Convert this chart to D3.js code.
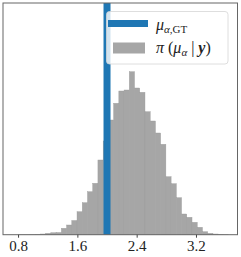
<!DOCTYPE html>
<html>
<head>
<meta charset="utf-8">
<script src="https://cdn.jsdelivr.net/npm/d3@7"></script>
<style>
  html, body { margin: 0; padding: 0; background: #fff; }
  svg { display: block; }
</style>
</head>
<body>
<svg id="chart" width="241" height="257"></svg>
<script>
// ---- data ----
const binStart = 0.82;
const binWidth = 0.0705;
const counts = [1, 1, 3, 5, 7, 14, 20, 22, 64, 97, 142, 230, 320, 430, 514, 747,
                937, 1147, 1314, 1437, 1447, 1630, 1467, 1424, 1230, 1137, 1017, 904,
                580, 510, 370, 207, 174, 124, 74, 30, 14, 7, 4, 1];
const gtValue = 2.0;
const xTicks = [0.8, 1.6, 2.4, 3.2];
const xDomain = [0.597, 3.76];
const yMax = 2317;

(function () {
  // ---- layout ----
  const mLeft = 3, mRight = 237.5, mTop = 3, mBottom = 234.7;
  const svg = d3.select("#chart");
  const x = d3.scaleLinear().domain(xDomain).range([mLeft, mRight]);
  const y = d3.scaleLinear().domain([0, yMax]).range([mBottom, mTop]);
  const serif = "'Liberation Serif', 'DejaVu Serif', serif";

  const bins = counts.map((c, i) => ({x0: binStart + i * binWidth, x1: binStart + (i + 1) * binWidth, c}));

  svg.append("g").selectAll("rect").data(bins).join("rect")
    .attr("x", d => x(d.x0))
    .attr("width", d => x(d.x1) - x(d.x0))
    .attr("y", d => y(d.c))
    .attr("height", d => y(0) - y(d.c))
    .attr("fill", "#a6a6a6")
    .attr("stroke", "#9c9c9c")
    .attr("stroke-width", 0.4);

  // GT line
  svg.append("line")
    .attr("x1", x(gtValue)).attr("x2", x(gtValue))
    .attr("y1", mTop).attr("y2", mBottom)
    .attr("stroke", "#1f77b4").attr("stroke-width", 7);

  // frame
  svg.append("rect")
    .attr("x", mLeft).attr("y", mTop)
    .attr("width", mRight - mLeft).attr("height", mBottom - mTop)
    .attr("fill", "none").attr("stroke", "#666").attr("stroke-width", 1);

  // axis
  const axis = d3.axisBottom(x).tickValues(xTicks).tickSize(3).tickPadding(3)
    .tickFormat(d3.format(".1f"));
  const gx = svg.append("g").attr("transform", `translate(0,${mBottom})`).call(axis);
  gx.select(".domain").remove();
  gx.selectAll(".tick line").attr("stroke", "#444");
  gx.selectAll(".tick text")
    .attr("font-family", serif)
    .attr("font-size", 15).attr("fill", "#222");

  // legend
  const lg = svg.append("g");
  lg.append("rect")
    .attr("x", 106.5).attr("y", 11.5).attr("width", 121.5).attr("height", 52.5)
    .attr("rx", 3).attr("fill", "#fff").attr("fill-opacity", 0.8)
    .attr("stroke", "#d6d6d6").attr("stroke-width", 0.8);
  lg.append("line").attr("x1", 108).attr("x2", 148).attr("y1", 23.5).attr("y2", 23.5)
    .attr("stroke", "#1f77b4").attr("stroke-width", 7);
  lg.append("rect").attr("x", 113).attr("y", 42.5).attr("width", 32).attr("height", 11)
    .attr("fill", "#a6a6a6");

  const t1 = lg.append("text").attr("x", 156).attr("y", 29.5)
    .attr("font-family", serif).attr("font-size", 16).attr("fill", "#222");
  t1.append("tspan").attr("font-style", "italic").text("μ");
  t1.append("tspan").attr("font-size", 11).attr("dy", 3).attr("font-style", "italic").text("α");
  t1.append("tspan").attr("font-size", 11).text(",GT");

  const t2 = lg.append("text").attr("x", 156).attr("y", 53)
    .attr("font-family", serif).attr("font-size", 16).attr("fill", "#222");
  t2.append("tspan").attr("font-style", "italic").text("π");
  t2.append("tspan").text(" (");
  t2.append("tspan").attr("font-style", "italic").text("μ");
  t2.append("tspan").attr("font-size", 11).attr("dy", 3).attr("font-style", "italic").text("α");
  t2.append("tspan").attr("dy", -3).text(" | ");
  t2.append("tspan").attr("font-style", "italic").attr("font-weight", "bold").text("y");
  t2.append("tspan").text(")");
})();
</script>
</body>
</html>
